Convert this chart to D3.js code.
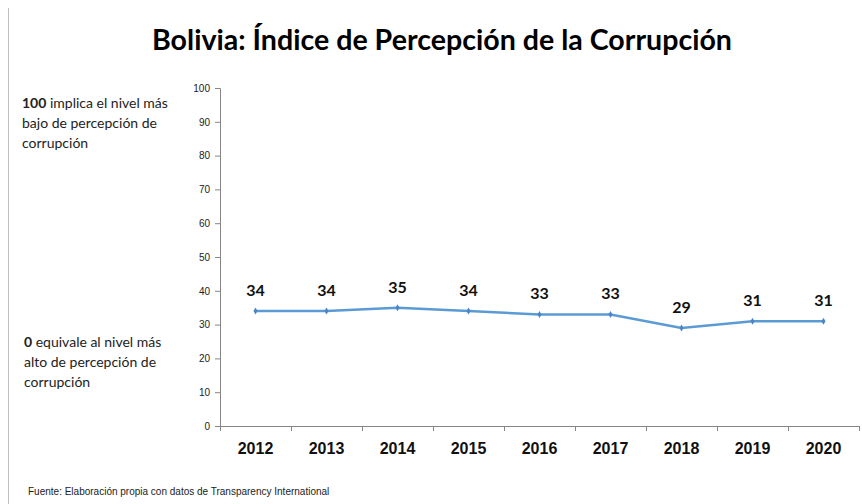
<!DOCTYPE html>
<html>
<head>
<meta charset="utf-8">
<script src="https://cdn.jsdelivr.net/npm/d3@7"></script>
<style>
  body { margin: 0; background: #fff; }
  svg { display: block; font-family: Lato, "Open Sans", sans-serif; }
</style>
</head>
<body>
<svg id="target"></svg>
<script>
// Data
let years = ["2012", "2013", "2014", "2015", "2016", "2017", "2018", "2019", "2020"];
let scores = [34, 34, 35, 34, 33, 33, 29, 31, 31];
let yTicks = [0, 10, 20, 30, 40, 50, 60, 70, 80, 90, 100];

let W = 862, H = 504;
let margin = {top: 88, right: 3, bottom: 78, left: 220},
    width = W - margin.left - margin.right,
    height = H - margin.top - margin.bottom;

function main() {
    let svg = d3.select("#target").attr("width", W).attr("height", H);

    // Left frame border
    svg.append("line")
        .attr("x1", 8.5).attr("x2", 8.5)
        .attr("y1", 8).attr("y2", H)
        .attr("stroke", "#bfbfbf").attr("stroke-width", 1);

    // Title
    svg.append("text")
        .attr("x", 442).attr("y", 50)
        .attr("text-anchor", "middle")
        .style("font-size", "28px").style("font-weight", "bold")
        .attr("textLength", 580).attr("lengthAdjust", "spacingAndGlyphs")
        .text("Bolivia: Índice de Percepción de la Corrupción");

    let g = svg.append("g")
        .attr("transform", "translate(" + margin.left + "," + margin.top + ")");

    let x = d3.scaleBand().domain(years).range([0, width]);
    let y = d3.scaleLinear().domain([0, 100]).range([height, 0]);

    // Y axis
    let yAxis = g.append("g")
        .call(d3.axisLeft(y).tickValues(yTicks).tickSize(5).tickPadding(5));
    yAxis.selectAll("text").style("font-size", "10px").attr("fill", "#222");
    yAxis.selectAll("line, path").attr("stroke", "#868686");

    // X axis
    let xAxis = g.append("g")
        .attr("transform", "translate(0," + height + ")")
        .call(d3.axisBottom(x).tickSize(0).tickPadding(17));
    xAxis.select("path").attr("stroke", "#868686");
    xAxis.selectAll("text").style("font-size", "16px").style("font-weight", "bold").attr("fill", "#111");
    // tick marks between categories
    xAxis.selectAll(".sep")
        .data(years.concat(["end"]))
        .enter().append("line")
        .attr("x1", (d, i) => i * x.step() + 0.5)
        .attr("x2", (d, i) => i * x.step() + 0.5)
        .attr("y1", 0).attr("y2", 5)
        .attr("stroke", "#868686");

    // Line
    let line = d3.line()
        .x((d, i) => x(years[i]) + x.bandwidth() / 2)
        .y(d => y(d));

    g.append("path")
        .datum(scores)
        .attr("d", line)
        .attr("fill", "none")
        .attr("stroke", "#5b9bd5")
        .attr("stroke-width", 2.5);

    g.selectAll(".pt")
        .data(scores)
        .enter().append("path")
        .attr("transform", (d, i) => "translate(" + (x(years[i]) + x.bandwidth() / 2) + "," + y(d) + ")")
        .attr("d", d3.symbol().type(d3.symbolDiamond).size(14))
        .attr("fill", "#4a86c5");

    // Value labels
    g.selectAll(".lbl")
        .data(scores)
        .enter().append("text")
        .attr("x", (d, i) => x(years[i]) + x.bandwidth() / 2)
        .attr("y", d => y(d) - 15)
        .attr("text-anchor", "middle")
        .style("font-size", "16px").style("font-weight", "bold")
        .attr("fill", "#111")
        .text(d => d);

    // Side notes
    let note1 = svg.append("text").attr("x", 22).attr("y", 108).style("font-size", "14px").attr("fill", "#222");
    note1.append("tspan").style("font-weight", "bold").text("100");
    note1.append("tspan").text(" implica  el nivel más");
    svg.append("text").attr("x", 22).attr("y", 128).style("font-size", "14px").attr("fill", "#222").text("bajo de percepción  de");
    svg.append("text").attr("x", 22).attr("y", 148).style("font-size", "14px").attr("fill", "#222").text("corrupción");

    let note2 = svg.append("text").attr("x", 24).attr("y", 347).style("font-size", "14px").attr("fill", "#222");
    note2.append("tspan").style("font-weight", "bold").text("0");
    note2.append("tspan").text(" equivale  al nivel más");
    svg.append("text").attr("x", 24).attr("y", 367).style("font-size", "14px").attr("fill", "#222").text("alto de percepción de");
    svg.append("text").attr("x", 24).attr("y", 387).style("font-size", "14px").attr("fill", "#222").text("corrupción");

    // Source
    svg.append("text")
        .attr("x", 28).attr("y", 495)
        .style("font-size", "10px")
        .style("font-family", "'Liberation Sans Narrow', 'Liberation Sans', sans-serif")
        .attr("fill", "#222")
        .text("Fuente: Elaboración propia con datos de Transparency International");
}
main();
</script>
</body>
</html>
